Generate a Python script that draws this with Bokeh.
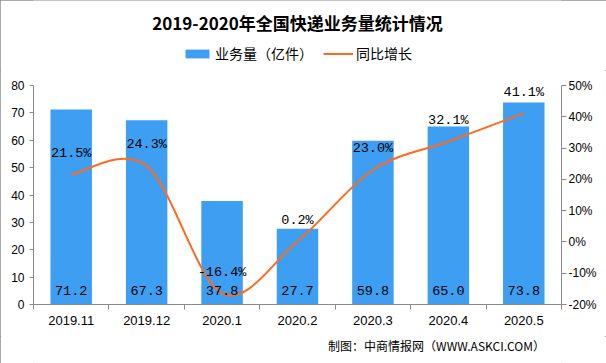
from bokeh.plotting import figure
from bokeh.layouts import column
from bokeh.models import (Range1d, LinearAxis, FixedTicker, PrintfTickFormatter,
                          ColumnDataSource, LabelSet, Label, Legend, LegendItem)
from bokeh.core.properties import value
from bokeh.embed import file_html
from bokeh.resources import INLINE

# ---------------- data ----------------
months = ["2019.11", "2019.12", "2020.1", "2020.2", "2020.3", "2020.4", "2020.5"]
volume = [71.2, 67.3, 37.8, 27.7, 59.8, 65.0, 73.8]          # 业务量（亿件）
growth = [21.5, 24.3, -16.4, 0.2, 23.0, 32.1, 41.1]           # 同比增长 (%)
volume_labels = ["71.2", "67.3", "37.8", "27.7", "59.8", "65.0", "73.8"]
growth_labels = ["21.5%", "24.3%", "-16.4%", "0.2%", "23.0%", "32.1%", "41.1%"]
left_ticks = [0, 10, 20, 30, 40, 50, 60, 70, 80]
right_ticks = [-20, -10, 0, 10, 20, 30, 40, 50]
title_text = "2019-2020年全国快递业务量统计情况"
legend_labels = ["业务量（亿件）", "同比增长"]
footer_text = "制图：中商情报网（WWW.ASKCI.COM）"

BLUE = "#3E9EF2"
ORANGE = "#FF6A1F"
AXIS = "#8A8A8A"
CJK = "Noto Sans CJK SC"
W = 606
H_HEAD, H_MAIN, H_FOOT = 70, 266, 27

n = len(months)
xs = list(range(n))


def blank(height):
    f = figure(width=W, height=height, output_backend="svg", toolbar_location=None,
               x_range=Range1d(0, W), y_range=Range1d(height, 0),
               min_border=0, min_border_left=0, min_border_right=0,
               min_border_top=0, min_border_bottom=0)
    f.axis.visible = False
    f.grid.visible = False
    f.outline_line_color = None
    f.background_fill_color = "white"
    f.border_fill_color = "white"
    return f


# ---------------- header: title + legend ----------------
head = blank(H_HEAD)
head.add_layout(Label(x=W / 2, y=22, text=title_text, text_align="center",
                      text_baseline="middle", text_font=CJK, text_font_size="17px",
                      text_font_style="bold", text_color="#000000"))
# legend proxies: one point each, placed outside the header's visible range
proxy_src = ColumnDataSource(dict(x=[-100], y=[-100]))
bar_proxy = head.vbar(x="x", top="y", bottom="y", width=1, fill_color=BLUE,
                      line_color=None, source=proxy_src)
line_proxy = head.line(x="x", y="y", line_color=ORANGE, line_width=2, source=proxy_src)
legend = Legend(items=[LegendItem(label=legend_labels[0], renderers=[bar_proxy]),
                       LegendItem(label=legend_labels[1], renderers=[line_proxy])],
                orientation="horizontal", location="bottom_center",
                glyph_width=30, glyph_height=11, label_standoff=3, spacing=10,
                padding=0, margin=7, background_fill_alpha=0, border_line_alpha=0,
                label_text_font=CJK, label_text_font_size="14px",
                label_text_color="#000000")
head.add_layout(legend)

# ---------------- main chart ----------------
p = figure(width=W, height=H_MAIN, output_backend="svg", toolbar_location=None,
           x_range=Range1d(-0.5, n - 0.5), y_range=Range1d(left_ticks[0], left_ticks[-1]),
           min_border_left=33, min_border_right=45, min_border_top=15, min_border_bottom=32)
p.extra_y_ranges = {"pct": Range1d(right_ticks[0], right_ticks[-1])}
p.xgrid.visible = False
p.ygrid.visible = False
p.outline_line_color = None
p.background_fill_color = "white"
p.border_fill_color = "white"

xa = p.xaxis[0]
xa.ticker = FixedTicker(ticks=xs, minor_ticks=[i - 0.5 for i in range(n + 1)])
xa.major_label_overrides = {i: m for i, m in enumerate(months)}
xa.major_tick_line_color = None
xa.major_tick_out = 5
xa.major_tick_in = 0
xa.minor_tick_out = 5
xa.minor_tick_in = 0
xa.minor_tick_line_color = AXIS
xa.axis_line_color = AXIS
xa.major_label_standoff = 6
xa.major_label_text_font = "Liberation Sans"
xa.major_label_text_font_size = "13px"
xa.major_label_text_color = "#000000"

ya = p.yaxis[0]
ya.ticker = FixedTicker(ticks=left_ticks)
ya.major_tick_out = 4
ya.major_tick_in = 0
ya.minor_tick_line_color = None
ya.axis_line_color = AXIS
ya.major_tick_line_color = AXIS
ya.major_label_standoff = 5
ya.major_label_text_font = "Liberation Sans"
ya.major_label_text_font_size = "12px"
ya.major_label_text_color = "#000000"

ra = LinearAxis(y_range_name="pct", ticker=FixedTicker(ticks=right_ticks),
                formatter=PrintfTickFormatter(format="%d%%"))
ra.major_tick_out = 5
ra.major_tick_in = 0
ra.minor_tick_line_color = None
ra.axis_line_color = AXIS
ra.major_tick_line_color = AXIS
ra.major_label_standoff = 2
ra.major_label_text_font = "Liberation Sans"
ra.major_label_text_font_size = "12px"
ra.major_label_text_color = "#000000"
p.add_layout(ra, "right")

p.vbar(x=xs, top=volume, width=0.55, fill_color=BLUE, line_color=None)

# smoothed growth line: cubic Bezier segments with Catmull-Rom control points
x0, y0, x1, y1, cx0, cy0, cx1, cy1 = [], [], [], [], [], [], [], []
for i in range(n - 1):
    a = i - 1 if i > 0 else i
    d = i + 2 if i + 2 < n else i + 1
    x0.append(xs[i]); y0.append(growth[i])
    x1.append(xs[i + 1]); y1.append(growth[i + 1])
    cx0.append(xs[i] + (xs[i + 1] - xs[a]) / 6.0)
    cy0.append(growth[i] + (growth[i + 1] - growth[a]) / 6.0)
    cx1.append(xs[i + 1] - (xs[d] - xs[i]) / 6.0)
    cy1.append(growth[i + 1] - (growth[d] - growth[i]) / 6.0)
p.bezier(x0=x0, y0=y0, x1=x1, y1=y1, cx0=cx0, cy0=cy0, cx1=cx1, cy1=cy1,
         line_color=ORANGE, line_width=2, y_range_name="pct")

src = ColumnDataSource(dict(x=xs, g=growth, gl=growth_labels, vl=volume_labels))
p.add_layout(LabelSet(x="x", y="g", text="gl", source=src, y_range_name="pct",
                      y_offset=21, text_align="center", text_baseline="middle",
                      text_font=value("Liberation Mono"), text_font_size="13.5px",
                      text_color="#000000"))
p.add_layout(LabelSet(x="x", y=0, text="vl", source=src,
                      y_offset=14, text_align="center", text_baseline="middle",
                      text_font=value("Liberation Mono"), text_font_size="13.5px",
                      text_color="#000000"))

# ---------------- footer ----------------
foot = blank(H_FOOT)
foot.add_layout(Label(x=587, y=9, text=footer_text, text_align="right",
                      text_baseline="middle", text_font=CJK, text_font_size="12px",
                      text_color="#000000"))

layout = column(head, p, foot, spacing=0)
layout.styles = {"outline": "1px solid #8E8E8E", "outline-offset": "-1px"}
open("out.html", "w").write(file_html(layout, INLINE))
